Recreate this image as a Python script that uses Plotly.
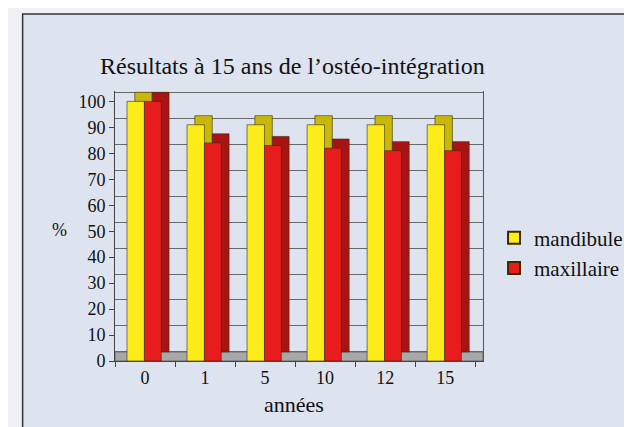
import plotly.graph_objects as go

categories = ["0", "1", "5", "10", "12", "15"]
mandibule = [100, 91, 91, 91, 91, 91]
maxillaire = [100, 84, 83, 82, 81, 81]

FONT = "Liberation Serif"
DEPTH_X = 0.13   # category units (3D depth offset)
DEPTH_Y = 3.5    # value units (3D depth offset)
YMAX = 104

fig = go.Figure()

def add_depth(vals, offset, width, side):
    # depth face, drawn on the "back wall" axis (shifted up by DEPTH_Y)
    fig.add_trace(go.Bar(
        x=categories, y=vals, yaxis="y",
        offset=offset + DEPTH_X, width=width,
        marker=dict(color=side, line=dict(color="#3a2a00", width=0.6)),
        showlegend=False, hoverinfo="skip"))

def add_front(name, vals, offset, width, front):
    fig.add_trace(go.Bar(
        x=categories, y=vals, name=name, yaxis="y2",
        offset=offset, width=width,
        marker=dict(color=front, line=dict(color="#3a2a00", width=0.6))))

add_depth(mandibule, -0.30, 0.29, "#c8b80c")
add_depth(maxillaire, -0.01, 0.28, "#a81414")
add_front("mandibule", mandibule, -0.30, 0.29, "#fcec1a")
add_front("maxillaire", maxillaire, -0.01, 0.28, "#e81c1c")

fig.update_layout(
    width=632, height=427,
    margin=dict(l=107, r=147, t=83, b=74),
    paper_bgcolor="#eef0f4",
    plot_bgcolor="rgba(0,0,0,0)",
    barmode="overlay",
    font=dict(family=FONT, color="#111", size=18),
    title=dict(text="Résultats à 15 ans de l’ostéo-intégration",
               x=0.45, xanchor="center", y=0.866, yanchor="middle",
               font=dict(family=FONT, size=24, color="#111")),
    xaxis=dict(type="category", range=[-0.5, 5.5 + DEPTH_X],
               showgrid=False, showline=True, linecolor="#444",
               ticks="outside", tickson="boundaries", ticklen=5, tickcolor="#444",
               tickfont=dict(family=FONT, size=18), mirror=False),
    yaxis=dict(range=[-DEPTH_Y, YMAX - DEPTH_Y], tickvals=list(range(0, 101, 10)),
               showgrid=True, gridcolor="#6a6a6a", gridwidth=1,
               showticklabels=False, ticks="",
               showline=True, linecolor="#555", mirror=True, zeroline=False),
    yaxis2=dict(overlaying="y", side="left", range=[0, YMAX],
                tickvals=list(range(0, 101, 10)), showgrid=False,
                showline=True, linecolor="#444", ticks="outside", ticklen=5,
                tickcolor="#444", tickfont=dict(family=FONT, size=18),
                zeroline=False),
    legend=dict(x=1.03, y=0.40, xanchor="left", yanchor="middle",
                font=dict(family=FONT, size=21), bgcolor="rgba(0,0,0,0)",
                itemsizing="constant", tracegroupgap=0),
    annotations=[
        dict(text="%", xref="paper", yref="paper", x=-0.177, y=0.485,
             showarrow=False, font=dict(family=FONT, size=18)),
        dict(text="années", xref="paper", yref="paper", x=0.487, y=-0.215,
             showarrow=False, font=dict(family=FONT, size=22, color="#111")),
    ],
    shapes=[
        dict(type="rect", xref="paper", yref="paper",
             x0=-0.251, x1=1.6, y0=1.285, y1=-0.5,
             fillcolor="#dde3ef", line=dict(color="#333", width=1.5),
             layer="below"),
        dict(type="rect", xref="paper", yref="y", x0=0, x1=1, y0=-DEPTH_Y, y1=0,
             fillcolor="#a8a8a8", line=dict(color="#555", width=0.8), layer="below"),
    ],
)

fig.write_html("out.html")
